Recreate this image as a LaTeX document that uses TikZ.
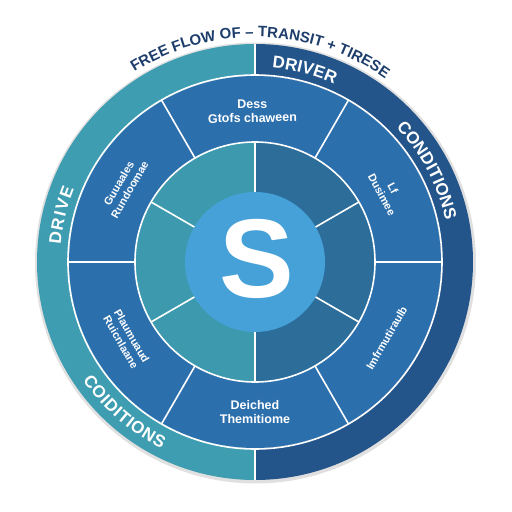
\documentclass[tikz,border=0pt]{standalone}
\usepackage{fontspec}
\setmainfont{Liberation Sans}
\usetikzlibrary{decorations.text}
\definecolor{tealring}{HTML}{3F9DB1}
\definecolor{navyring}{HTML}{23548A}
\definecolor{midring}{HTML}{2C6FAD}
\definecolor{tealin}{HTML}{3C99AE}
\definecolor{bluein}{HTML}{2C6D9A}
\definecolor{scircle}{HTML}{46A1D8}
\definecolor{titlenavy}{HTML}{1D3D6B}
% ring piece: colour, start angle, end angle, inner radius, outer radius
\def\ringpart#1#2#3#4#5{\fill[#1] (#2:#4) arc[start angle=#2,end angle=#3,radius=#4]
  -- (#3:#5) arc[start angle=#3,end angle=#2,radius=#5] -- cycle;}

\begin{document}
\begin{tikzpicture}[x=1pt,y=1pt,
    divider/.style={white,line width=1.6pt},
    segtext/.style={white,font=\bfseries\fontsize{11}{12.5}\selectfont,align=center,inner sep=0pt},
    ringword/.style={decorate,decoration={text along path,text align=center,
      text={|\bfseries\fontsize{17}{17}\selectfont\color{white}|#1}}},
    spread/.style={decoration={text align={fit to path}}}]
    \useasboundingbox (-255,-250) rectangle (257,262);
    \fill[black,opacity=0.12] (0.5,-1) circle (220.5);

    % outer ring
    \ringpart{tealring}{90}{270}{186}{218}
    \ringpart{navyring}{-90}{90}{186}{218}
    % middle ring
    \fill[midring] (0,0) circle (186);
    % inner ring
    \ringpart{tealin}{90}{270}{0}{120}
    \ringpart{bluein}{-90}{90}{0}{120}
    \fill[scircle] (0,0) circle (70);

    \draw[divider] (0,0) circle (187) (0,0) circle (120);
    \draw[divider] (90:187) -- (90:218) (270:187) -- (270:218);
    \foreach \a in {0,60,...,300} \draw[divider] (\a:120) -- (\a:187);
    \foreach \a in {30,90,...,330} \draw[divider] (\a:70) -- (\a:120);

    % words on the outer ring
    \path[decorate,decoration={text along path,text align=center,
      text={|\bfseries\fontsize{15}{15}\selectfont\color{titlenavy}|FREE FLOW OF – TRANSIT + TIRESE}}]
      (124:225) arc[start angle=124,end angle=53,radius=225];
    \path[ringword=DRIVER] (95:195) arc[start angle=95,end angle=56,radius=195];
    \path[ringword=CONDITIONS] (62:195) arc[start angle=62,end angle=-6,radius=195];
    \path[ringword=DRIVE,spread] (175:195) arc[start angle=175,end angle=158,radius=195];
    \path[ringword=COIDITIONS,spread] (214.5:209) arc[start angle=214.5,end angle=243.5,radius=209];

    % words on the middle ring
    \path
    (91:151) node[segtext,font=\bfseries\fontsize{12.5}{14}\selectfont,rotate=1] (segTop) {Dess\\Gtofs chaween}
    (150:151) node[segtext,rotate=60] (segUL) {Guuaales\\Rundoomae}
    (28:150) node[segtext,rotate=-62] (segUR) {Lf\\Dusimee}
    (-30:152) node[segtext,rotate=60] (segLR) {Imfrmutiraulb}
    (270:150) node[segtext,font=\bfseries\fontsize{12.5}{14}\selectfont] (segBot) {Deiched\\Themitiome}
    (211:150) node[segtext,rotate=-60] (segLL) {Plaumuaud\\Ruicnlaane};

    \node[white,font=\bfseries\fontsize{112}{112}\selectfont] (S) at (2,3) {S};
\end{tikzpicture}
\end{document}
